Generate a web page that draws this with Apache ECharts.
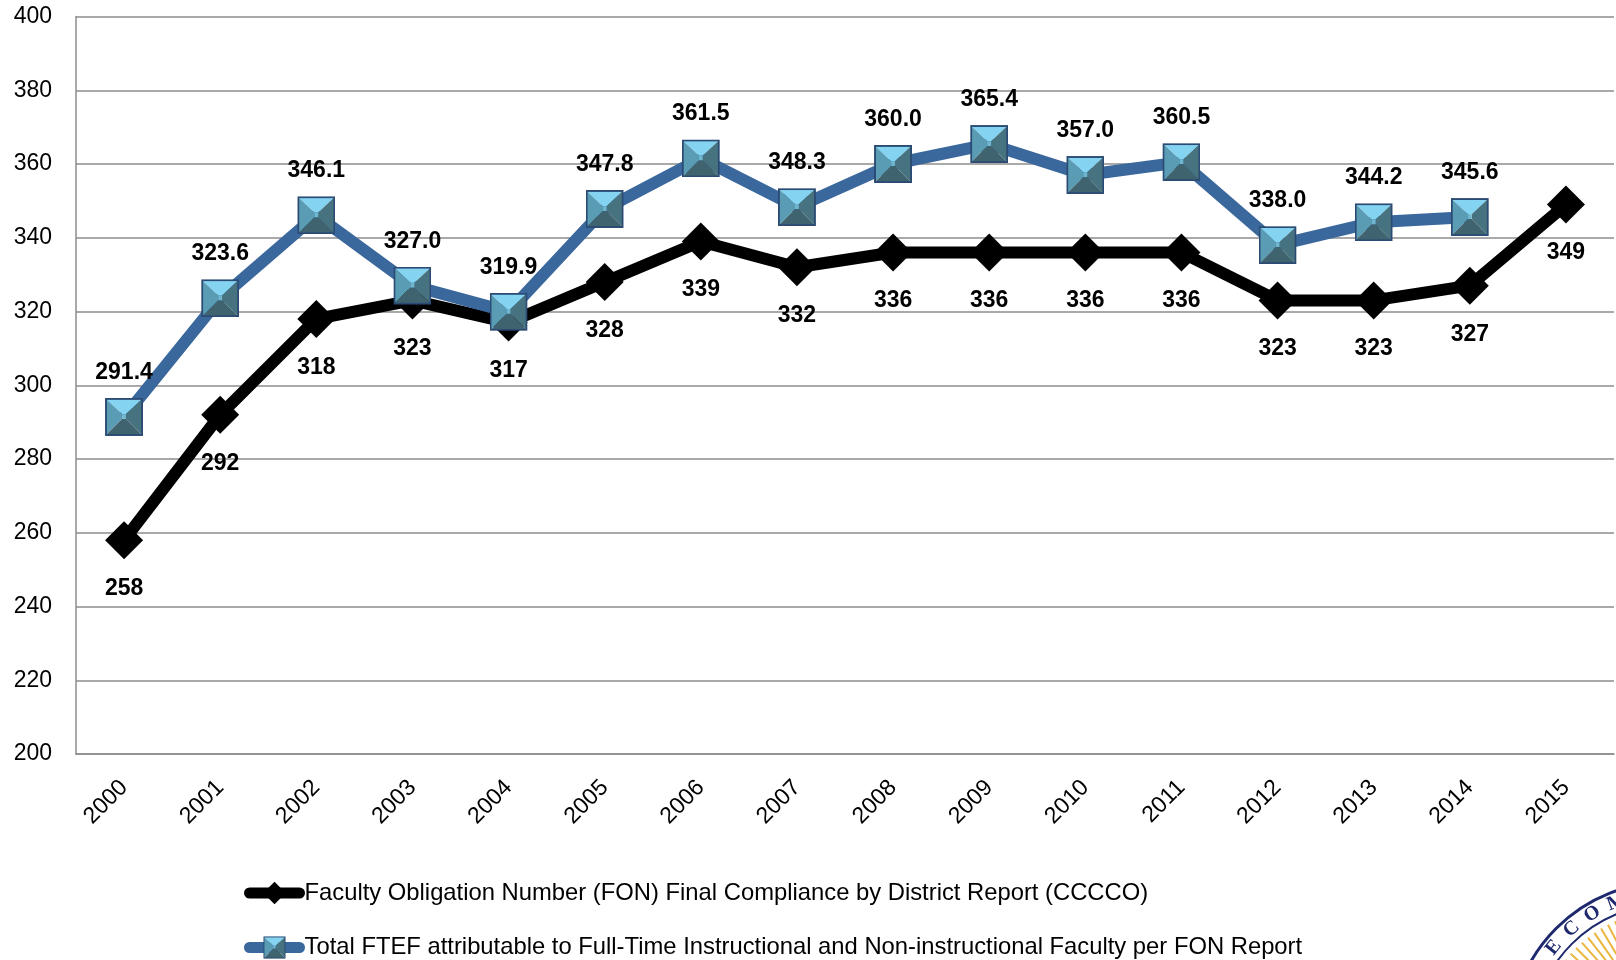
<!DOCTYPE html>
<html>
<head>
<meta charset="utf-8">
<script src="https://cdn.jsdelivr.net/npm/echarts@6/dist/echarts.min.js"></script>
<style>
html,body{margin:0;padding:0;background:#fff;}
#chart{width:1616px;height:960px;}
</style>
</head>
<body>
<div id="chart"></div>
<script>
const years = ['2000','2001','2002','2003','2004','2005','2006','2007','2008','2009','2010','2011','2012','2013','2014','2015'];
const fonValues = [258, 292, 318, 323, 317, 328, 339, 332, 336, 336, 336, 336, 323, 323, 327, 349];
const ftefValues = [291.4, 323.6, 346.1, 327.0, 319.9, 347.8, 361.5, 348.3, 360.0, 365.4, 357.0, 360.5, 338.0, 344.2, 345.6, null];
const fonName = 'Faculty Obligation Number (FON) Final Compliance by District Report (CCCCO)';
const ftefName = 'Total FTEF attributable to Full-Time Instructional and Non-instructional Faculty per FON Report';
const yTicks = { min: 200, max: 400, interval: 20 };

const FONT = '"Liberation Sans", Arial, sans-serif';

// pyramid-style square marker (decoration only)
const squareSvg =
  '<svg xmlns="http://www.w3.org/2000/svg" width="40" height="40" viewBox="0 0 40 40">' +
  '<polygon points="1,1 39,1 22,17 18,17" fill="#84d3f1"/>' +
  '<polygon points="1,1 18,17 18,22 1,39" fill="#5a9cb3"/>' +
  '<polygon points="39,1 22,17 22,22 39,39" fill="#47727f"/>' +
  '<polygon points="1,39 18,22 22,22 39,39" fill="#3f6470"/>' +
  '<polygon points="18,17 22,17 22,22 18,22" fill="#6fb6cf"/>' +
  '<rect x="1" y="1" width="38" height="38" fill="none" stroke="#2b4b74" stroke-width="2"/>' +
  '</svg>';
const squareSymbol = 'image://data:image/svg+xml;charset=utf-8,' + encodeURIComponent(squareSvg);

const chart = echarts.init(document.getElementById('chart'));

// partially visible seal in the bottom-right corner
const seal = [];
const cx = 1668, cy = 1040;
seal.push({ type: 'circle', shape: { cx, cy, r: 158 }, style: { fill: '#fff', stroke: '#1f2a6e', lineWidth: 3 }, z: 0 });
seal.push({ type: 'circle', shape: { cx, cy, r: 136 }, style: { fill: '#fff', stroke: '#1f2a6e', lineWidth: 2 }, z: 0 });
for (let a = 190; a < 280; a += 3.5) {
  const rad = a * Math.PI / 180;
  seal.push({ type: 'line', shape: { x1: cx + 130 * Math.cos(rad), y1: cy + 130 * Math.sin(rad), x2: cx + 60 * Math.cos(rad), y2: cy + 60 * Math.sin(rad) }, style: { stroke: '#eab63f', lineWidth: 2 }, z: 0 });
}
const letters = ['E', 'C', 'O', 'M', 'M'];
const angs = [219, 229, 239, 249.5, 260];
letters.forEach((ch, i) => {
  const rad = angs[i] * Math.PI / 180;
  seal.push({ type: 'text', x: cx + 147 * Math.cos(rad), y: cy + 147 * Math.sin(rad),
    rotation: (270 - angs[i]) * Math.PI / 180,
    style: { text: ch, fill: '#1f2a6e', font: 'bold 20px "Liberation Serif", serif', align: 'center', verticalAlign: 'middle' }, z: 0 });
});

chart.setOption({
  animation: false,
  backgroundColor: '#fff',
  grid: { left: 76, right: 2, top: 16.5, bottom: 206, containLabel: false },
  xAxis: {
    type: 'category',
    data: years,
    boundaryGap: true,
    axisLine: { show: true, lineStyle: { color: '#8c8c8c', width: 1.5 } },
    axisTick: { show: false },
    axisLabel: { rotate: 45, margin: 30, color: '#000', fontFamily: FONT, fontSize: 23 }
  },
  yAxis: {
    type: 'value',
    min: yTicks.min, max: yTicks.max, interval: yTicks.interval,
    axisLine: { show: true, lineStyle: { color: '#8c8c8c', width: 1.5 } },
    axisTick: { show: false },
    splitLine: { show: true, lineStyle: { color: '#8c8c8c', width: 1.5 } },
    axisLabel: { margin: 24, color: '#000', fontFamily: FONT, fontSize: 23 }
  },
  legend: {
    orient: 'vertical',
    left: 244, top: 881, padding: 0,
    itemWidth: 50, itemHeight: 28, itemGap: 30.5,
    lineStyle: { width: 11, cap: 'round' },
    textStyle: { color: '#000', fontFamily: FONT, fontSize: 23.8, padding: [0, 0, 0, 0] },
    data: [
      { name: fonName },
      { name: ftefName }
    ]
  },
  graphic: seal,
  series: [
    {
      name: fonName,
      type: 'line',
      data: fonValues,
      symbol: 'diamond',
      symbolSize: 38,
      z: 2,
      lineStyle: { color: '#000', width: 12 },
      itemStyle: { color: '#000' },
      label: { show: true, position: 'bottom', distance: 18, color: '#000', fontFamily: FONT, fontWeight: 'bold', fontSize: 23 }
    },
    {
      name: ftefName,
      type: 'line',
      data: ftefValues,
      symbol: squareSymbol,
      symbolSize: 38,
      z: 3,
      lineStyle: { color: '#3a679c', width: 12 },
      itemStyle: { color: '#3a679c' },
      label: { show: true, position: 'top', distance: 14, color: '#000', fontFamily: FONT, fontWeight: 'bold', fontSize: 23,
        formatter: p => p.value == null ? '' : Number(p.value).toFixed(1) }
    }
  ]
});
</script>
</body>
</html>
